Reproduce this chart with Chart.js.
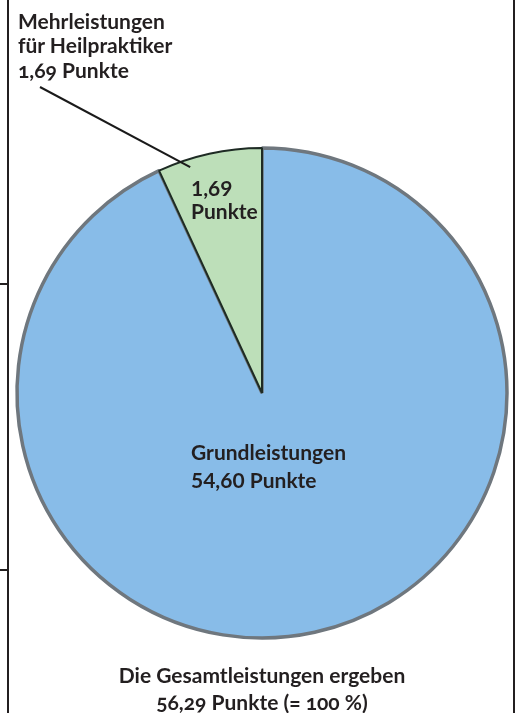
<!DOCTYPE html>
<html>
<head>
<meta charset="utf-8">
<script src="https://cdn.jsdelivr.net/npm/chart.js@4"></script>
<style>
  html, body { margin: 0; padding: 0; background: #fff; overflow: hidden; }
  #wrap { position: relative; width: 522px; height: 713px; }
  #wrap canvas { position: absolute; left: 0; top: 0; }
  .rule { position: absolute; background: #231f20; }
  .txt { position: absolute; font-family: Lato, sans-serif; font-weight: bold; color: #231f20;
         font-size: 21px; font-variant-numeric: oldstyle-nums; white-space: nowrap; }
</style>
</head>
<body>
<div id="wrap">
  <canvas id="pieChart"></canvas>
  <div class="rule" style="left:7px;top:0;width:2px;height:713px"></div>
  <div class="rule" style="left:0;top:283px;width:9px;height:2px"></div>
  <div class="rule" style="left:0;top:569px;width:9px;height:2px"></div>
  <div class="rule" style="left:513px;top:0;width:2px;height:713px"></div>
  <div class="txt" id="note" style="left:18px;top:8.6px;line-height:24.5px"></div>
  <div class="txt" id="caption" style="left:0;width:524px;top:661px;line-height:27px;text-align:center"></div>
</div>
<script>
const sliceNames = ['Grundleistungen', 'Mehrleistungen'];
const notePrefix = ['Mehrleistungen', 'für Heilpraktiker'];
const punkte = [54.60, 1.69];
// slice sizes as they are drawn in the picture (the original is not to scale)
const drawnShare = [93.1, 6.9];
const fillColors = ['#88bce8', '#bddfb9'];
const edgeColors = ['#6f777e', '#1e2b24'];

function de(v) { return v.toFixed(2).replace('.', ','); }
const total = punkte.reduce((a, b) => a + b, 0);

document.getElementById('note').innerHTML =
  notePrefix.join('<br>') + '<br>' + de(punkte[1]) + ' Punkte';
document.getElementById('caption').innerHTML =
  'Die Gesamtleistungen ergeben<br>' + de(total) + ' Punkte (= 100 %)';

const sliceText = {
  id: 'sliceText',
  afterDatasetsDraw(chart) {
    const ctx = chart.ctx;
    const arcs = chart.getDatasetMeta(0).data;
    const big = arcs[0], small = arcs[1];
    const R = small.outerRadius;

    // leader line from the note to the small slice
    const a = small.startAngle + 0.29 * (small.endAngle - small.startAngle);
    ctx.save();
    ctx.strokeStyle = '#1a1a1a';
    ctx.lineWidth = 2;
    ctx.beginPath();
    ctx.moveTo(40, 87);
    ctx.lineTo(small.x + Math.cos(a) * (R - 8), small.y + Math.sin(a) * (R - 8));
    ctx.stroke();

    ctx.fillStyle = '#231f20';
    ctx.font = 'bold 21px Lato';
    ctx.textAlign = 'left';
    ctx.textBaseline = 'alphabetic';
    // small slice label
    ctx.fillText(de(punkte[1]), small.x - 71, small.y - 197);
    ctx.fillText('Punkte', small.x - 71, small.y - 174);
    // big slice label
    ctx.fillText(sliceNames[0], big.x - 71, big.y + 67);
    ctx.fillText(de(punkte[0]) + ' Punkte', big.x - 71, big.y + 95);
    ctx.restore();
  }
};

new Chart(document.getElementById('pieChart'), {
  type: 'pie',
  data: {
    labels: sliceNames,
    datasets: [{
      data: drawnShare,
      backgroundColor: fillColors,
      borderColor: edgeColors,
      borderWidth: [3.5, 2],
      hoverOffset: 0
    }]
  },
  options: {
    responsive: true,
    maintainAspectRatio: false,
    animation: false,
    radius: 245,
    layout: { padding: { left: 2, right: 0, top: 73, bottom: 0 } },
    plugins: {
      legend: { display: false },
      tooltip: { enabled: false }
    }
  },
  plugins: [sliceText]
});
</script>
</body>
</html>
